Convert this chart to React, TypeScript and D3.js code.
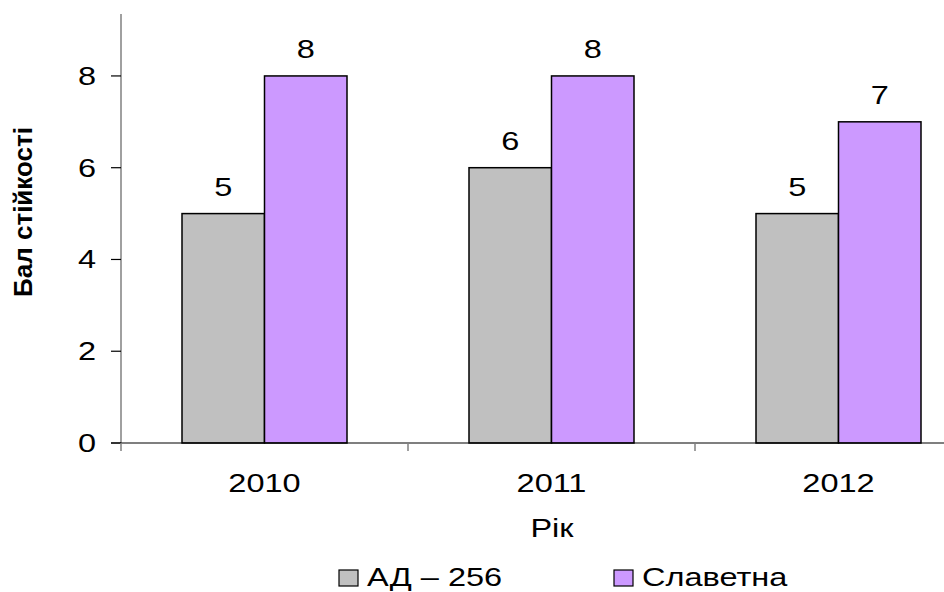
import { FC } from 'react';
import * as d3 from 'd3';

const years = ['2010', '2011', '2012'];
const seriesNames = ['АД – 256', 'Славетна'];
const ad256 = [5, 6, 5];
const slavetna = [8, 8, 7];
const yTicks = [0, 2, 4, 6, 8];
const colors = ['#C0C0C0', '#CC99FF'];

const FONT = '"Liberation Sans", Arial, sans-serif';
const SX = 1.25; // text in the original is stretched sideways

const W = 944;
const H = 592;

const Txt: FC<{ x: number; y: number; anchor?: string; size?: number; children: any }> = ({
  x, y, anchor = 'middle', size = 26, children,
}) => (
  <text
    transform={`translate(${x},${y}) scale(${SX},1)`}
    textAnchor={anchor}
    fontFamily={FONT}
    fontSize={size}
    fill="#000"
  >
    {children}
  </text>
);

const App: FC = () => {
  const x = d3.scaleBand<string>().domain(years).range([121, 982]).padding(0);
  const y = d3.scaleLinear().domain([0, 9.35]).range([443, 14]);
  const barW = 82.5;
  const series = [ad256, slavetna];

  return (
    <div style={{ position: 'absolute', left: 0, top: 0 }}>
      <svg width={W} height={H} style={{ display: 'block', background: '#fff' }}>
        {/* y axis */}
        <line x1={121} x2={121} y1={y.range()[1]} y2={y(0)} stroke="#808080" strokeWidth={1.5} />
        {yTicks.map(t => (
          <g key={t}>
            <line x1={111} x2={121} y1={y(t)} y2={y(t)} stroke="#000" strokeWidth={1.2} />
            <Txt x={96} y={y(t) + 9} anchor="end">{t}</Txt>
          </g>
        ))}

        {/* bars */}
        {years.map((yr, i) => {
          const cx = (x(yr) as number) + x.bandwidth() / 2;
          return series.map((vals, s) => {
            const bx = cx - barW + s * barW;
            return (
              <g key={yr + s}>
                <rect
                  x={bx}
                  y={y(vals[i])}
                  width={barW}
                  height={y(0) - y(vals[i])}
                  fill={colors[s]}
                  stroke="#000"
                  strokeWidth={1.5}
                />
                <Txt x={bx + barW / 2} y={y(vals[i]) - 18}>{vals[i]}</Txt>
              </g>
            );
          });
        })}

        {/* x axis */}
        <line x1={111} x2={W} y1={y(0)} y2={y(0)} stroke="#000" strokeWidth={1.2} />
        {years.map(yr => (
          <line key={yr} x1={x(yr) as number} x2={x(yr) as number} y1={y(0)} y2={y(0) + 8}
                stroke="#808080" strokeWidth={1.5} />
        ))}
        {years.map(yr => (
          <Txt key={yr} x={(x(yr) as number) + x.bandwidth() / 2} y={492}>{yr}</Txt>
        ))}

        {/* axis titles */}
        <Txt x={552} y={537}>Рік</Txt>
        <text
          transform="translate(32,212) rotate(-90)"
          textAnchor="middle"
          fontFamily={FONT}
          fontSize={26}
          fontWeight="bold"
          fill="#000"
        >
          Бал стійкості
        </text>

        {/* legend */}
        {seriesNames.map((name, s) => {
          const lx = s === 0 ? 339 : 614;
          return (
            <g key={name}>
              <rect x={lx} y={570} width={19} height={16} fill={colors[s]} stroke="#000" strokeWidth={1.2} />
              <Txt x={lx + 28} y={586} anchor="start">{name}</Txt>
            </g>
          );
        })}
      </svg>
    </div>
  );
};

export default App;
